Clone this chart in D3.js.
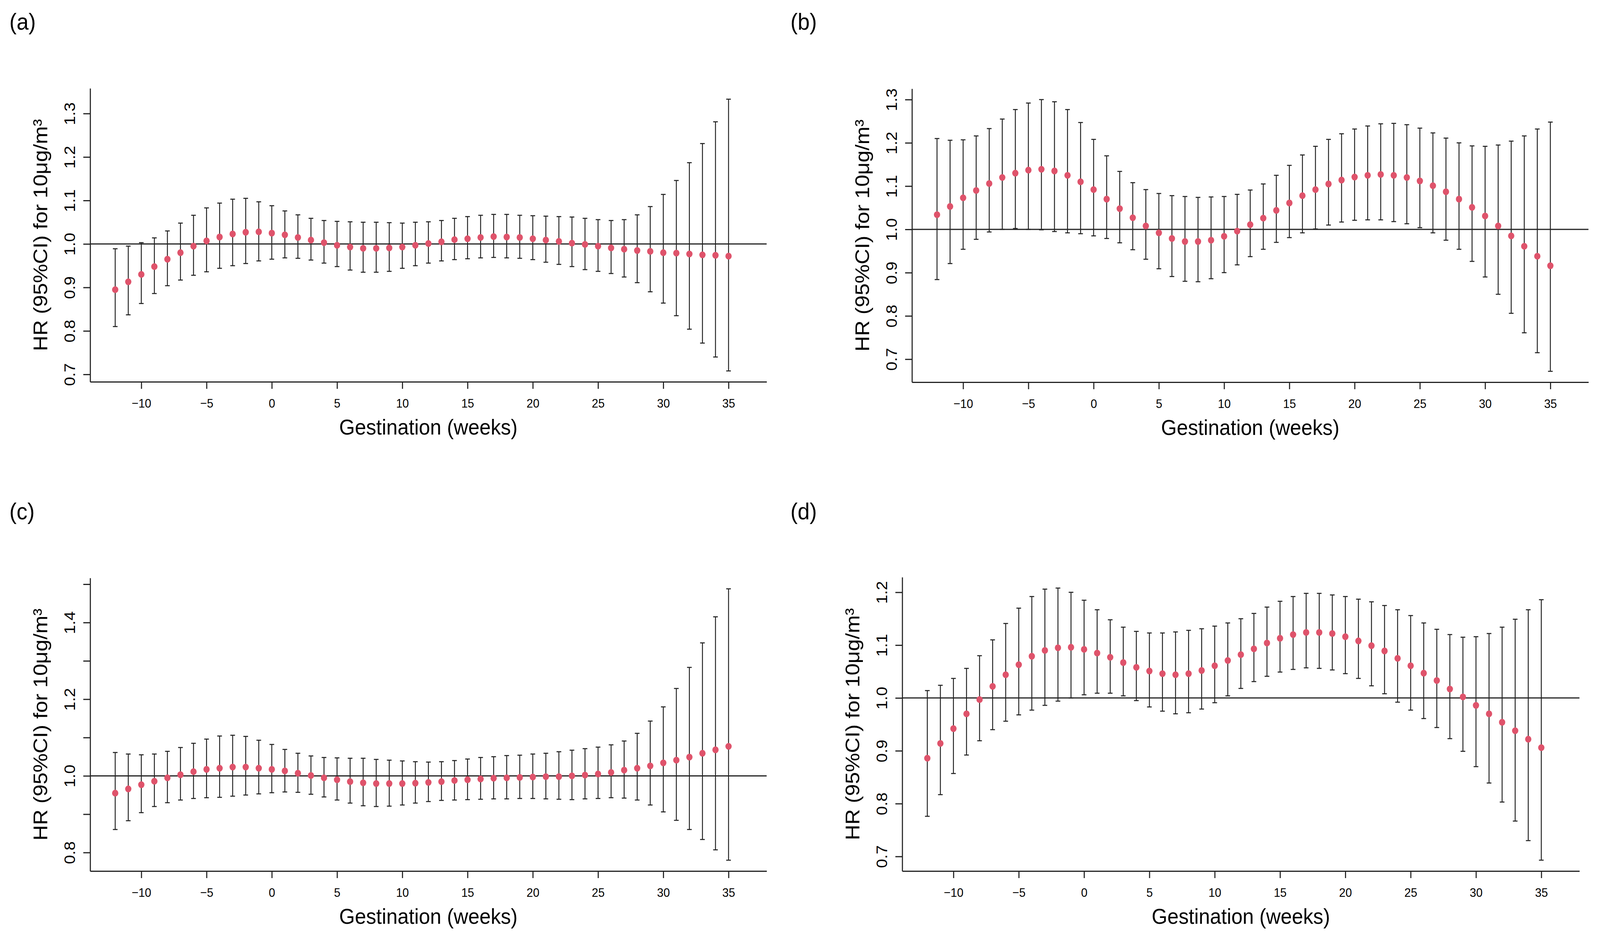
<!DOCTYPE html>
<html>
<head>
<meta charset="utf-8">
<script src="https://cdn.jsdelivr.net/npm/d3@7"></script>
<style>
  html, body { margin: 0; padding: 0; background: #fff; overflow: hidden; }
  svg { display: block; width: 100vw; height: 100vh; }
  text { font-family: "Liberation Sans", Arial, Helvetica, sans-serif; fill: #000; }
</style>
</head>
<body>
<div id="chart"></div>
<script>
// weeks of gestation (x categories)
var weeks = [-12, -11, -10, -9, -8, -7, -6, -5, -4, -3, -2, -1,
  0, 1, 2, 3, 4, 5, 6, 7, 8, 9, 10, 11, 12, 13, 14, 15, 16, 17, 18, 19,
  20, 21, 22, 23, 24, 25, 26, 27, 28, 29, 30, 31, 32, 33, 34, 35];

// (a)
var hrA = [0.895, 0.913, 0.930, 0.948, 0.965, 0.980, 0.995, 1.007, 1.016, 1.023, 1.027, 1.028,
  1.025, 1.021, 1.015, 1.009, 1.003, 0.997, 0.993, 0.990, 0.990, 0.991,
  0.993, 0.997, 1.001, 1.005, 1.010, 1.012, 1.015, 1.017, 1.016, 1.015,
  1.012, 1.009, 1.006, 1.002, 0.999, 0.995, 0.991, 0.988, 0.985, 0.983,
  0.980, 0.979, 0.977, 0.975, 0.974, 0.972];
var loA = [0.810, 0.837, 0.863, 0.886, 0.904, 0.917, 0.928, 0.936, 0.944, 0.950, 0.955, 0.961,
  0.965, 0.968, 0.967, 0.963, 0.956, 0.948, 0.940, 0.935, 0.935, 0.937,
  0.944, 0.950, 0.956, 0.961, 0.964, 0.966, 0.968, 0.969, 0.968, 0.967,
  0.964, 0.958, 0.953, 0.948, 0.941, 0.937, 0.932, 0.924, 0.911, 0.890,
  0.864, 0.835, 0.804, 0.772, 0.740, 0.708];
var upA = [0.989, 0.995, 1.003, 1.014, 1.030, 1.048, 1.066, 1.083, 1.094, 1.103, 1.105, 1.097,
  1.088, 1.076, 1.067, 1.059, 1.054, 1.052, 1.051, 1.050, 1.050, 1.049,
  1.048, 1.050, 1.051, 1.054, 1.059, 1.063, 1.066, 1.068, 1.068, 1.066,
  1.065, 1.064, 1.063, 1.062, 1.059, 1.056, 1.054, 1.056, 1.067, 1.086,
  1.114, 1.146, 1.187, 1.231, 1.281, 1.333];

// (b)
var hrB = [1.034, 1.053, 1.073, 1.090, 1.106, 1.120, 1.130, 1.137, 1.139, 1.135, 1.125, 1.110,
  1.092, 1.070, 1.048, 1.027, 1.008, 0.992, 0.979, 0.972, 0.972, 0.975,
  0.984, 0.996, 1.011, 1.026, 1.044, 1.061, 1.078, 1.092, 1.105, 1.114,
  1.121, 1.125, 1.127, 1.125, 1.120, 1.112, 1.101, 1.087, 1.070, 1.051,
  1.031, 1.008, 0.985, 0.961, 0.938, 0.916];
var loB = [0.884, 0.921, 0.954, 0.977, 0.994, 1.000, 1.002, 1.000, 0.999, 0.995, 0.992, 0.990,
  0.985, 0.979, 0.969, 0.953, 0.931, 0.909, 0.891, 0.880, 0.879, 0.886,
  0.900, 0.918, 0.937, 0.954, 0.970, 0.981, 0.992, 1.001, 1.010, 1.017,
  1.021, 1.022, 1.022, 1.018, 1.013, 1.004, 0.992, 0.975, 0.954, 0.926,
  0.890, 0.850, 0.806, 0.761, 0.715, 0.672];
var upB = [1.210, 1.206, 1.207, 1.216, 1.233, 1.255, 1.277, 1.292, 1.300, 1.295, 1.277, 1.247,
  1.208, 1.170, 1.134, 1.108, 1.092, 1.083, 1.078, 1.076, 1.074, 1.075,
  1.076, 1.081, 1.091, 1.105, 1.125, 1.148, 1.172, 1.192, 1.208, 1.221,
  1.232, 1.239, 1.244, 1.245, 1.242, 1.234, 1.223, 1.211, 1.200, 1.193,
  1.192, 1.195, 1.204, 1.216, 1.232, 1.248];

// (c)
var hrC = [0.955, 0.966, 0.977, 0.986, 0.995, 1.003, 1.011, 1.017, 1.020, 1.023, 1.023, 1.020,
  1.017, 1.013, 1.007, 1.001, 0.995, 0.990, 0.985, 0.982, 0.980, 0.980,
  0.980, 0.981, 0.983, 0.985, 0.988, 0.990, 0.992, 0.994, 0.995, 0.996,
  0.997, 0.998, 0.998, 1.000, 1.002, 1.005, 1.009, 1.015, 1.020, 1.026,
  1.034, 1.041, 1.049, 1.059, 1.068, 1.077];
var loC = [0.860, 0.883, 0.904, 0.920, 0.930, 0.937, 0.941, 0.943, 0.944, 0.947, 0.950, 0.953,
  0.956, 0.958, 0.957, 0.952, 0.945, 0.937, 0.929, 0.922, 0.920, 0.921,
  0.924, 0.929, 0.933, 0.936, 0.937, 0.938, 0.939, 0.940, 0.940, 0.941,
  0.941, 0.940, 0.939, 0.938, 0.940, 0.941, 0.943, 0.942, 0.937, 0.924,
  0.906, 0.884, 0.860, 0.834, 0.807, 0.780];
var upC = [1.061, 1.057, 1.055, 1.057, 1.064, 1.074, 1.085, 1.096, 1.104, 1.106, 1.103, 1.093,
  1.082, 1.069, 1.059, 1.052, 1.048, 1.047, 1.046, 1.046, 1.043, 1.041,
  1.039, 1.037, 1.036, 1.037, 1.040, 1.044, 1.048, 1.050, 1.053, 1.054,
  1.057, 1.059, 1.063, 1.067, 1.071, 1.075, 1.081, 1.091, 1.111, 1.143,
  1.180, 1.228, 1.283, 1.347, 1.415, 1.488];

// (d)
var hrD = [0.886, 0.914, 0.942, 0.970, 0.997, 1.022, 1.044, 1.063, 1.079, 1.090, 1.095, 1.096,
  1.092, 1.085, 1.077, 1.067, 1.058, 1.051, 1.046, 1.044, 1.046, 1.052,
  1.061, 1.071, 1.082, 1.093, 1.104, 1.113, 1.120, 1.124, 1.124, 1.122,
  1.116, 1.108, 1.099, 1.089, 1.075, 1.061, 1.047, 1.033, 1.017, 1.002,
  0.986, 0.970, 0.954, 0.938, 0.922, 0.906];
var loD = [0.776, 0.817, 0.857, 0.892, 0.919, 0.940, 0.956, 0.968, 0.977, 0.986, 0.994, 1.000,
  1.006, 1.009, 1.009, 1.004, 0.995, 0.983, 0.975, 0.970, 0.972, 0.979,
  0.991, 1.004, 1.018, 1.031, 1.041, 1.049, 1.054, 1.057, 1.056, 1.053,
  1.046, 1.037, 1.023, 1.008, 0.992, 0.977, 0.961, 0.944, 0.923, 0.899,
  0.870, 0.839, 0.803, 0.767, 0.730, 0.693];
var upD = [1.014, 1.024, 1.037, 1.056, 1.080, 1.110, 1.141, 1.170, 1.192, 1.206, 1.208, 1.200,
  1.185, 1.167, 1.148, 1.134, 1.126, 1.123, 1.123, 1.125, 1.128, 1.131,
  1.136, 1.142, 1.150, 1.160, 1.172, 1.183, 1.192, 1.198, 1.198, 1.195,
  1.192, 1.187, 1.182, 1.175, 1.167, 1.156, 1.142, 1.130, 1.120, 1.115,
  1.116, 1.122, 1.134, 1.149, 1.167, 1.186];

// tick values
var xTicks = [-10, -5, 0, 5, 10, 15, 20, 25, 30, 35];
var yTicksAB = [0.7, 0.8, 0.9, 1.0, 1.1, 1.2, 1.3];
var yTicksC = [0.8, 0.9, 1.0, 1.1, 1.2, 1.3, 1.4, 1.5];
var yLabelsC = [0.8, 1.0, 1.2, 1.4];
var yTicksD = [0.7, 0.8, 0.9, 1.0, 1.1, 1.2];
var xlim = [-12, 36];

var W = 4437, H = 2408;
// drawn in a fixed 4437x2408 coordinate space, scaled to the window
var svg = d3.select("#chart").append("svg")
  .attr("viewBox", "0 0 " + W + " " + H)
  .attr("preserveAspectRatio", "none")
  .style("background", "#fff");

var panels = [
  { tag: "(a)", hr: hrA, lo: loA, up: upA, ticks: yTicksAB, labels: yTicksAB,
    left: 250, right: 2126, top: 226, bottom: 977, tagX: 26, tagY: 76 },
  { tag: "(b)", hr: hrB, lo: loB, up: upB, ticks: yTicksAB, labels: yTicksAB,
    left: 2529, right: 4405, top: 227, bottom: 978, tagX: 2192, tagY: 76 },
  { tag: "(c)", hr: hrC, lo: loC, up: upC, ticks: yTicksC, labels: yLabelsC,
    left: 250, right: 2126, top: 1479, bottom: 2229, tagX: 26, tagY: 1329 },
  { tag: "(d)", hr: hrD, lo: loD, up: upD, ticks: yTicksD, labels: yTicksD,
    left: 2502, right: 4380, top: 1477, bottom: 2229, tagX: 2192, tagY: 1329 }
];

// R style 4% axis extension
function extend(lim) {
  var d = (lim[1] - lim[0]) * 0.04;
  return [lim[0] - d, lim[1] + d];
}

var axisColor = "#222";

panels.forEach(function (p) {
  var x = d3.scaleLinear().domain(extend(xlim)).range([p.left, p.right]);
  var ylim = [d3.min(p.lo), d3.max(p.up)];
  var y = d3.scaleLinear().domain(extend(ylim)).range([p.bottom, p.top]);

  var g = svg.append("g");

  // panel tag
  svg.append("text")
    .attr("x", p.tagX).attr("y", p.tagY)
    .style("font-size", "60px")
    .text(p.tag);

  // y axis
  var yAxis = d3.axisLeft(y)
    .tickValues(p.ticks)
    .tickSizeInner(19)
    .tickSizeOuter(0)
    .tickFormat(function (d) {
      return p.labels.indexOf(d) >= 0 ? d3.format(".1f")(d) : "";
    });
  var ya = g.append("g")
    .attr("transform", "translate(" + p.left + ",0)")
    .call(yAxis);
  ya.select(".domain").attr("stroke", axisColor).attr("stroke-width", 3);
  ya.selectAll(".tick line").attr("stroke", axisColor).attr("stroke-width", 3);
  ya.selectAll(".tick text")
    .attr("transform", "rotate(-90)")
    .attr("x", 0).attr("y", -42).attr("dy", null)
    .attr("text-anchor", "middle")
    .attr("fill", "#000")
    .style("font-size", "42px")
    .style("font-family", "'Liberation Sans', Arial, sans-serif");

  // x axis
  var xAxis = d3.axisBottom(x)
    .tickValues(xTicks)
    .tickSizeInner(18)
    .tickSizeOuter(0);
  var xa = g.append("g")
    .attr("transform", "translate(0," + p.bottom + ")")
    .call(xAxis);
  xa.select(".domain").attr("stroke", axisColor).attr("stroke-width", 3);
  xa.selectAll(".tick line").attr("stroke", axisColor).attr("stroke-width", 3);
  xa.selectAll(".tick text")
    .attr("y", 66).attr("dy", null)
    .attr("fill", "#000")
    .style("font-size", "32px")
    .style("font-family", "'Liberation Sans', Arial, sans-serif");

  // axis titles
  g.append("text")
    .attr("transform", "translate(" + (p.left - 119) + "," + ((p.top + p.bottom) / 2) + ") rotate(-90)")
    .attr("text-anchor", "middle")
    .style("font-size", "55px")
    .text("HR (95%CI) for 10μg/m³");
  g.append("text")
    .attr("x", (p.left + p.right) / 2)
    .attr("y", p.bottom + 135)
    .attr("text-anchor", "middle")
    .style("font-size", "56px")
    .text("Gestination (weeks)");

  // reference line at HR = 1
  g.append("line")
    .attr("x1", p.left).attr("x2", p.right)
    .attr("y1", y(1)).attr("y2", y(1))
    .attr("stroke", axisColor).attr("stroke-width", 3);

  // error bars
  var bars = g.append("g")
    .attr("stroke", axisColor)
    .attr("stroke-width", 2.6)
    .selectAll("g")
    .data(weeks.map(function (w, i) { return { w: w, hr: p.hr[i], lo: p.lo[i], up: p.up[i] }; }))
    .enter()
    .append("g");
  bars.append("line")
    .attr("x1", function (d) { return x(d.w); })
    .attr("x2", function (d) { return x(d.w); })
    .attr("y1", function (d) { return y(d.lo); })
    .attr("y2", function (d) { return y(d.up); });
  bars.append("line")
    .attr("x1", function (d) { return x(d.w) - 6.5; })
    .attr("x2", function (d) { return x(d.w) + 6.5; })
    .attr("y1", function (d) { return y(d.lo); })
    .attr("y2", function (d) { return y(d.lo); });
  bars.append("line")
    .attr("x1", function (d) { return x(d.w) - 6.5; })
    .attr("x2", function (d) { return x(d.w) + 6.5; })
    .attr("y1", function (d) { return y(d.up); })
    .attr("y2", function (d) { return y(d.up); });

  // point estimates
  g.append("g")
    .selectAll("circle")
    .data(weeks)
    .enter()
    .append("circle")
    .attr("cx", function (d) { return x(d); })
    .attr("cy", function (d, i) { return y(p.hr[i]); })
    .attr("r", 8.7)
    .attr("fill", "#DF536B");
});
</script>
</body>
</html>
